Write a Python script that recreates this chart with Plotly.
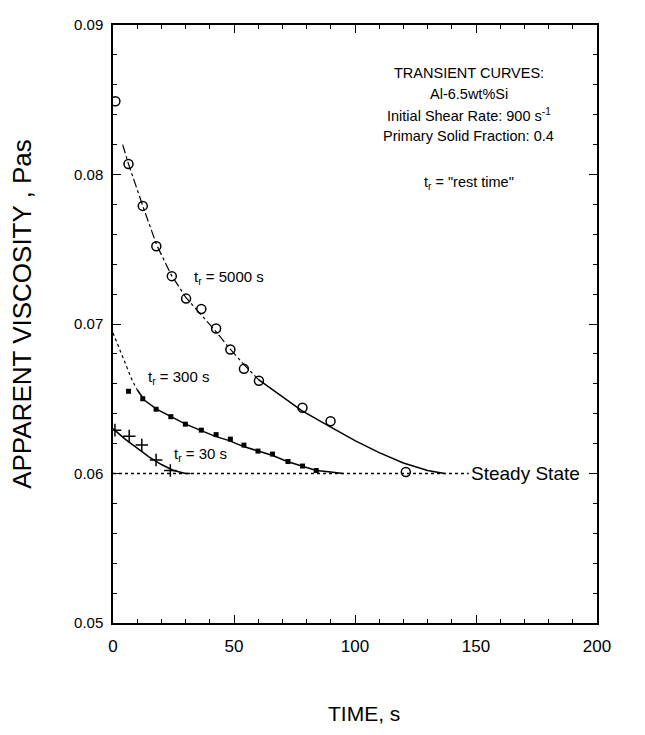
import plotly.graph_objects as go

# tr = 5000 s (open circles)
t5000 = [1.0, 6.4, 12.3, 17.9, 24.3, 30.2, 36.5, 42.6, 48.5, 54.1, 60.3, 78.3, 89.9, 121.0]
v5000 = [0.0849, 0.0807, 0.0779, 0.0752, 0.0732, 0.0717, 0.0710, 0.0697, 0.0683, 0.0670, 0.0662, 0.0644, 0.0635, 0.0601]
# fitted curve for 5000 s
ct5000 = [4, 6.4, 12.3, 18, 24, 30, 36, 42, 48, 54, 60, 70, 78, 90, 100, 110, 120, 130, 137]
cv5000 = [0.0820, 0.0807, 0.0779, 0.0753, 0.0733, 0.0718, 0.0707, 0.0696, 0.0684, 0.0673, 0.0663, 0.0651, 0.0642, 0.0631, 0.0622, 0.0614, 0.0607, 0.0602, 0.0600]

# tr = 300 s (filled squares)
t300 = [6.4, 12.3, 17.8, 23.9, 29.9, 36.5, 42.6, 48.5, 54.1, 59.9, 65.9, 72.3, 78.3, 84.0]
v300 = [0.0655, 0.0650, 0.0643, 0.0638, 0.0633, 0.0629, 0.0626, 0.0623, 0.0619, 0.0615, 0.0613, 0.0608, 0.0605, 0.0602]
ct300 = [0, 2, 4, 6, 8, 10, 13, 18, 24, 30, 36, 42, 48, 54, 60, 66, 72, 78, 84, 90, 95]
cv300 = [0.0694, 0.0686, 0.0677, 0.0669, 0.0662, 0.0656, 0.0649, 0.0643, 0.0638, 0.0633, 0.0629, 0.0625, 0.0622, 0.0618, 0.0615, 0.0612, 0.0608, 0.0605, 0.0602, 0.0601, 0.0600]

# tr = 30 s (plus signs)
t30 = [0.8, 6.7, 11.9, 17.8, 23.7]
v30 = [0.0629, 0.0625, 0.0619, 0.0609, 0.0602]
ct30 = [0, 5, 10, 15, 20, 25, 30, 32]
cv30 = [0.0630, 0.0623, 0.0617, 0.0611, 0.0606, 0.0602, 0.0600, 0.0600]

steady_t = [0, 147]
steady_v = [0.06, 0.06]

notes = ["TRANSIENT CURVES:", "Al-6.5wt%Si", "Initial Shear Rate: 900 s<sup>-1</sup>",
         "Primary Solid Fraction: 0.4", 't<sub>r</sub> = "rest time"']
notes_v = [0.0868, 0.0854, 0.0840, 0.0826, 0.0794]

FONT = "Liberation Sans, Arial, sans-serif"
fig = go.Figure()

fig.add_trace(go.Scatter(x=steady_t, y=steady_v, mode="lines",
                         line=dict(color="black", width=1.5, dash="dot")))

# 5000 s curve: dash-dot first, solid later
k = ct5000.index(60)
fig.add_trace(go.Scatter(x=ct5000[:k + 1], y=cv5000[:k + 1], mode="lines",
                         line=dict(color="black", width=1.2, dash="dashdot")))
fig.add_trace(go.Scatter(x=ct5000[k:], y=cv5000[k:], mode="lines",
                         line=dict(color="black", width=1.5)))
fig.add_trace(go.Scatter(x=t5000, y=v5000, mode="markers",
                         marker=dict(symbol="circle-open", size=9, color="black", line=dict(width=1.5))))

k = ct300.index(10)
fig.add_trace(go.Scatter(x=ct300[:k + 1], y=cv300[:k + 1], mode="lines",
                         line=dict(color="black", width=1.2, dash="dot")))
fig.add_trace(go.Scatter(x=ct300[k:], y=cv300[k:], mode="lines",
                         line=dict(color="black", width=1.5)))
fig.add_trace(go.Scatter(x=t300, y=v300, mode="markers",
                         marker=dict(symbol="square", size=5, color="black")))

fig.add_trace(go.Scatter(x=ct30, y=cv30, mode="lines",
                         line=dict(color="black", width=1.5)))
fig.add_trace(go.Scatter(x=t30, y=v30, mode="markers",
                         marker=dict(symbol="cross-thin", size=9, color="black",
                                     line=dict(width=1.5, color="black"))))

fig.add_annotation(x=147, y=0.06, text="Steady State", showarrow=False,
                   xanchor="left", yanchor="middle", font=dict(size=19))
fig.add_annotation(x=48, y=0.0731, text="t<sub>r</sub> = 5000 s", showarrow=False,
                   xanchor="center", font=dict(size=15))
fig.add_annotation(x=27, y=0.0664, text="t<sub>r</sub> = 300 s", showarrow=False,
                   xanchor="center", font=dict(size=15))
fig.add_annotation(x=36, y=0.0613, text="t<sub>r</sub> = 30 s", showarrow=False,
                   xanchor="center", font=dict(size=15))

for s, v in zip(notes, notes_v):
    fig.add_annotation(x=147, y=v, text=s, showarrow=False,
                       xanchor="center", font=dict(size=14.5))

# axis titles as annotations so they can sit where the scan has them
fig.add_annotation(x=0.519, y=0, xref="paper", yref="paper", yshift=-90,
                   xanchor="center", yanchor="middle",
                   text="TIME, s", showarrow=False, font=dict(size=21))
fig.add_annotation(x=0, y=0.517, xref="paper", yref="paper", xshift=-91,
                   xanchor="center", yanchor="middle",
                   text="APPARENT VISCOSITY , Pas", textangle=-90,
                   showarrow=False, font=dict(size=26))

fig.update_xaxes(range=[0, 200], dtick=50, showgrid=False, zeroline=False,
                 showline=True, linecolor="black", linewidth=1.5, mirror="allticks",
                 ticks="inside", ticklen=8, tickcolor="black",
                 minor=dict(dtick=10, ticks="inside", ticklen=4, tickcolor="black"),
                 tickfont=dict(size=17), tickformat="d", ticklabelstandoff=7)
fig.update_yaxes(range=[0.05, 0.09], dtick=0.01, showgrid=False, zeroline=False,
                 showline=True, linecolor="black", linewidth=1.5, mirror="allticks",
                 ticks="inside", ticklen=8, tickcolor="black",
                 minor=dict(dtick=0.002, ticks="inside", ticklen=4, tickcolor="black"),
                 tickfont=dict(size=15), tickformat=".2f", ticklabelstandoff=5,
                 ticklabeloverflow="allow")

fig.update_layout(width=645, height=735, showlegend=False,
                  plot_bgcolor="white", paper_bgcolor="white",
                  font=dict(family=FONT, color="black"),
                  margin=dict(l=105, r=56, t=8, b=120))

fig.write_html("out.html")
